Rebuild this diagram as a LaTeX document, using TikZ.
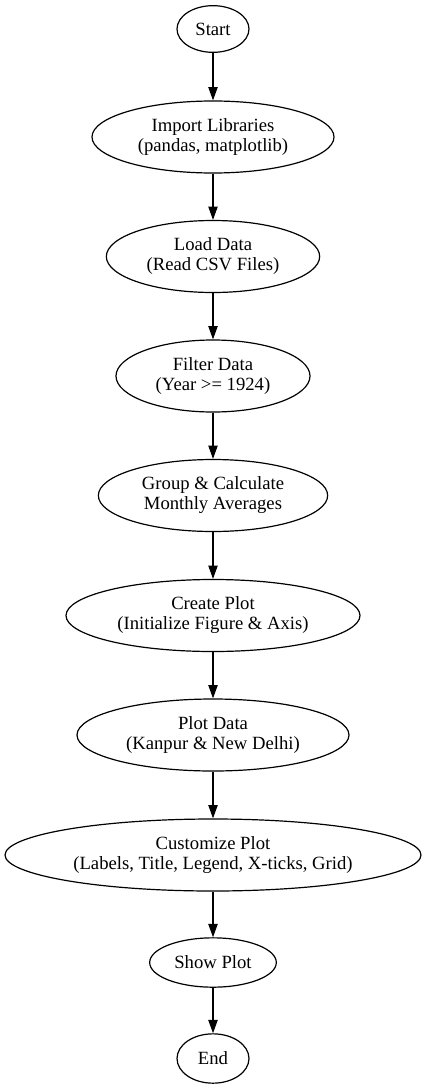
\documentclass[tikz,border=0pt]{standalone}
\usepackage{fontspec}
\setmainfont{Liberation Serif}
\usetikzlibrary{shapes.geometric,arrows.meta}
\begin{document}
\begin{tikzpicture}[x=0.75pt,y=-0.75pt,
  ell/.style={ellipse,draw,line width=0.9pt,inner sep=0pt,align=center,
    font=\fontsize{14pt}{15pt}\selectfont},
  conn/.style={draw,line width=0.9pt,-{Triangle[length=10pt,width=7pt]}}]
\useasboundingbox (0,0) rectangle (427,1088);
\node[ell,minimum width=54pt,minimum height=35pt] (start) at (213,29) {Start};
\node[ell,minimum width=181.5pt,minimum height=54pt] (imp) at (213,137) {Import Libraries\\(pandas, matplotlib)};
\node[ell,minimum width=160pt,minimum height=54pt] (load) at (213,256.5) {Load Data\\(Read CSV Files)};
\node[ell,minimum width=145.5pt,minimum height=54pt] (filt) at (213,376) {Filter Data\\(Year >= 1924)};
\node[ell,minimum width=172pt,minimum height=54pt] (grp) at (213,495.5) {Group \& Calculate\\Monthly Averages};
\node[ell,minimum width=220.5pt,minimum height=54pt] (crt) at (213,615.5) {Create Plot\\(Initialize Figure \& Axis)};
\node[ell,minimum width=204pt,minimum height=54pt] (plt) at (213,735) {Plot Data\\(Kanpur \& New Delhi)};
\node[ell,minimum width=312pt,minimum height=54pt] (cus) at (213,855) {Customize Plot\\(Labels, Title, Legend, X-ticks, Grid)};
\node[ell,minimum width=95pt,minimum height=37pt] (show) at (213,962.5) {Show Plot};
\node[ell,minimum width=54pt,minimum height=37pt] (end) at (213,1058.5) {End};
\draw[conn] (start) -- (imp);
\draw[conn] (imp) -- (load);
\draw[conn] (load) -- (filt);
\draw[conn] (filt) -- (grp);
\draw[conn] (grp) -- (crt);
\draw[conn] (crt) -- (plt);
\draw[conn] (plt) -- (cus);
\draw[conn] (cus) -- (show);
\draw[conn] (show) -- (end);
\end{tikzpicture}
\end{document}
